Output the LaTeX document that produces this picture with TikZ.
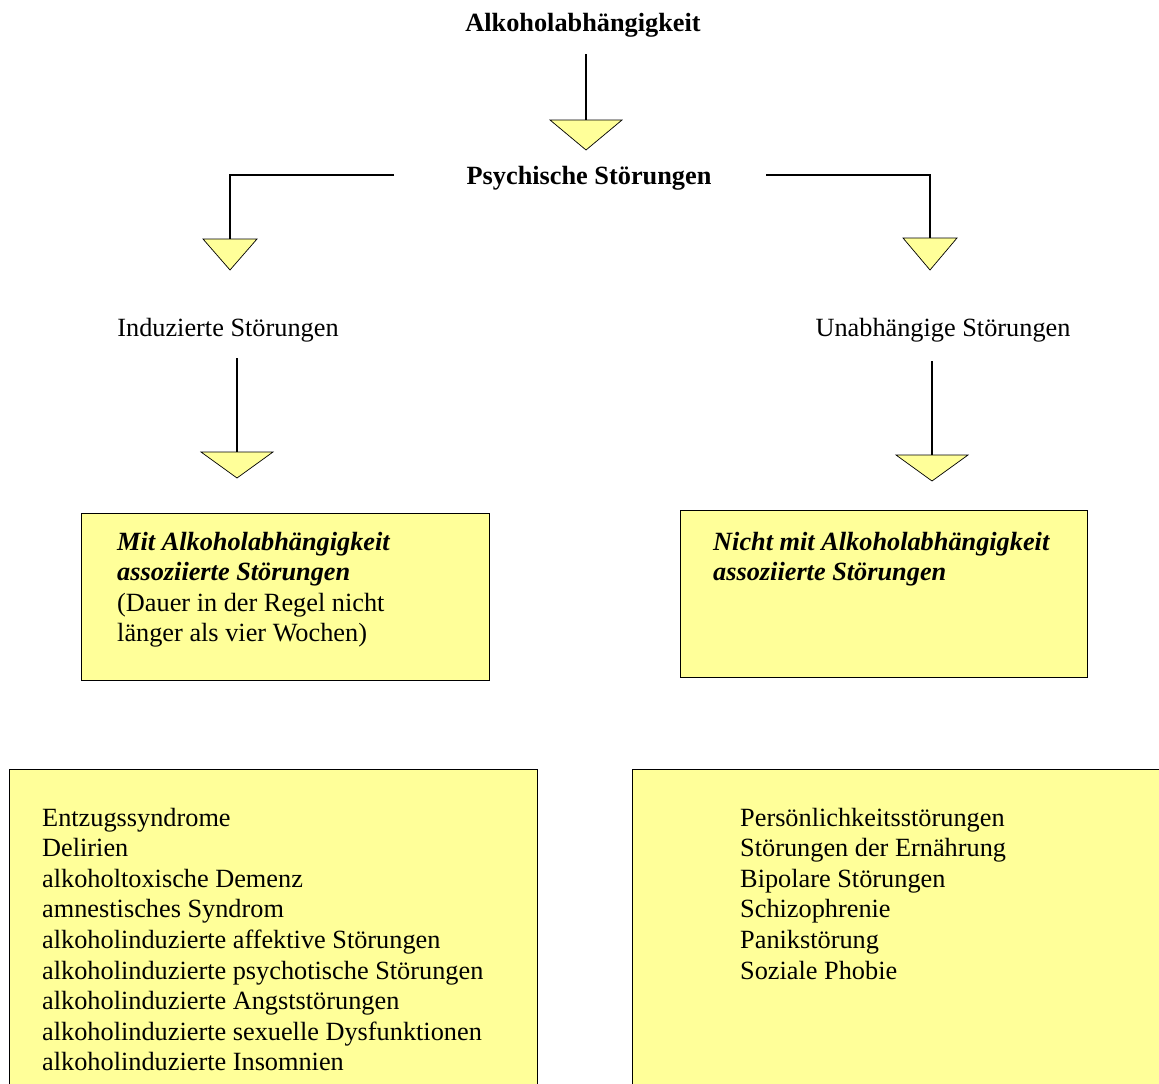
\documentclass[tikz,border=0pt]{standalone}
\usepackage{fontspec}
\setmainfont{Liberation Serif}
\usetikzlibrary{positioning}

\definecolor{paleyellow}{HTML}{FFFF99}
\newcommand{\bigtxt}{\fontsize{26.3}{30.6}\selectfont}

\tikzset{
  tri/.style={fill=paleyellow, draw=black, line width=0.7pt, line join=miter},
  panel/.style={fill=paleyellow, draw=black, line width=0.8pt},
  link/.style={line width=1.1pt},
  lbl/.style={anchor=base, inner sep=0pt, font=\bigtxt},
  item/.style={anchor=base west, inner sep=0pt, font=\bigtxt},
  head/.style={item, font=\bigtxt\bfseries\itshape}
}

\begin{document}
\begin{tikzpicture}[x=1pt, y=-1pt]
\clip (0,0) rectangle (1159,1084);

% titles
\node[lbl, font=\bigtxt\bfseries] (alk) at (583,31) {Alkoholabhängigkeit};
\node[lbl, font=\bigtxt\bfseries] (psy) at (589,184) {Psychische Störungen};
\node[lbl] (ind) at (228,336) {Induzierte Störungen};
\node[lbl] (una) at (943,336) {Unabhängige Störungen};

% connector ends and triangle tops
\coordinate (a0) at (586,54);
\coordinate (t0) at (586,120);
\coordinate (l0) at (394,175);
\coordinate (l1) at (230,175);
\coordinate (t1) at (230,239);
\coordinate (r0) at (766,175);
\coordinate (r1) at (930,175);
\coordinate (t2) at (930,238);
\coordinate (li) at (237,358);
\coordinate (t3) at (237,452);
\coordinate (ru) at (932,361);
\coordinate (t4) at (932,455);

\draw[link] (a0) -- (t0);
\draw[link] (l0) -- (l1) -- (t1);
\draw[link] (r0) -- (r1) -- (t2);
\draw[link] (li) -- (t3);
\draw[link] (ru) -- (t4);

\filldraw[tri] (t0) ++(-36,0) -- ++(72,0) -- ++(-36,30) -- cycle;
\filldraw[tri] (t1) ++(-27,0) -- ++(54,0) -- ++(-27,31) -- cycle;
\filldraw[tri] (t2) ++(-27,0) -- ++(54,0) -- ++(-27,32) -- cycle;
\filldraw[tri] (t3) ++(-36,0) -- ++(72,0) -- ++(-36,26) -- cycle;
\filldraw[tri] (t4) ++(-36,0) -- ++(72,0) -- ++(-36,26) -- cycle;

% boxes
\filldraw[panel] (81,513) rectangle (489,680);
\filldraw[panel] (680,510) rectangle (1087,677);
\filldraw[panel] (9,769) rectangle (537,1100);
\filldraw[panel] (632,769) rectangle (1170,1100);

% box texts
\foreach \t [count=\i] in {Mit Alkoholabhängigkeit, assoziierte Störungen}
  \node[head] (mit\i) at (117,{550+30.6*(\i-1)}) {\t};
\node[item] (dauer1) at (117,611.2) {(Dauer in der Regel nicht};
\node[item] (dauer2) at (117,641.8) {länger als vier Wochen)};

\foreach \t [count=\i] in {Nicht mit Alkoholabhängigkeit, assoziierte Störungen}
  \node[head] (nicht\i) at (713,{550+30.6*(\i-1)}) {\t};

\foreach \t [count=\i] in {Entzugssyndrome, Delirien, alkoholtoxische Demenz,
    amnestisches Syndrom, alkoholinduzierte affektive Störungen,
    alkoholinduzierte psychotische Störungen, alkoholinduzierte Angststörungen,
    alkoholinduzierte sexuelle Dysfunktionen, alkoholinduzierte Insomnien}
  \node[item] (ind\i) at (42,{826+30.6*(\i-1)}) {\t};

\foreach \t [count=\i] in {Persönlichkeitsstörungen, Störungen der Ernährung,
    Bipolare Störungen, Schizophrenie, Panikstörung, Soziale Phobie}
  \node[item] (una\i) at (740,{826+30.6*(\i-1)}) {\t};
\end{tikzpicture}
\end{document}
